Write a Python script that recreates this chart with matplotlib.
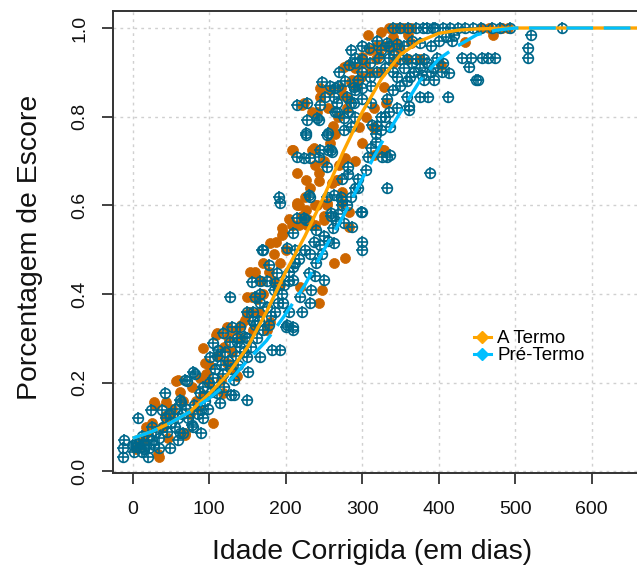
import matplotlib
matplotlib.use("Agg")
import matplotlib.pyplot as plt
from matplotlib.lines import Line2D

plt.rcParams['font.family'] = ['Liberation Sans', 'DejaVu Sans']

# ---------------- data ----------------
a_termo_points = [
    (35,0.033),(28,0.157),(44,0.157),(59,0.206),(46,0.075),(17,0.10),(68,0.082),(85,0.146),
    (92,0.278),(94,0.244),(109,0.308),(125,0.304),(105,0.109),(83,0.16),(116,0.206),(137,0.216),
    (118,0.176),(157,0.319),(33,0.04),(29,0.15),(57,0.203),(68,0.086),(110,0.312),(123,0.326),
    (149,0.394),(149,0.356),(158,0.447),(180,0.515),(195,0.533),(195,0.55),(210,0.556),(221,0.575),
    (215,0.60),(241,0.60),(254,0.605),(263,0.469),(278,0.481),(243,0.379),(247,0.41),(175,0.326),
    (123,0.244),(92,0.172),(42,0.124),
    (10,0.06),(20,0.09),(50,0.12),(62,0.18),(75,0.13),(100,0.24),(100,0.2),(130,0.27),(140,0.30),
    (130,0.23),(165,0.36),(170,0.40),(185,0.43),(170,0.47),
    (154,0.45),(160,0.45),(188,0.518),(193,0.469),(217,0.60),(230,0.567),(239,0.60),(250,0.567),
    (219,0.417),(193,0.42),(156,0.394),(154,0.36),(147,0.342),(180,0.338),(176,0.32),(197,0.537),
    (221,0.826),(235,0.811),(241,0.811),(245,0.845),(208,0.725),(235,0.725),(215,0.672),(226,0.657),
    (243,0.672),(243,0.655),(267,0.657),(270,0.69),(215,0.605),(254,0.601),(226,0.59),(208,0.556),
    (218,0.556),(228,0.556),(238,0.556),(250,0.575),(283,0.552),(315,0.777),(315,0.714),(258,0.86),
    (275,0.85),
    (307,0.984),(224,0.83),(245,0.864),(276,0.913),(287,0.883),(300,0.935),(303,0.92),(290,0.91),
    (272,0.864),(329,0.868),(331,0.83),(316,0.82),(237,0.729),(296,0.777),(329,0.725),(364,1.0),
    (360,0.984),(364,0.966),(337,0.954),(344,0.93),(403,0.917),(375,0.93),(282,0.84),
    (471,0.984),(466,1.0),(483,1.0),(434,0.969),
    (278,0.706),(267,0.657),(274,0.605),(274,0.63),(283,0.586),(326,0.725),
    (344,0.966),(281,0.917),(285,0.879),(316,0.774),(210,0.725),
    (335,1.0),(345,1.0),(355,1.0),(325,0.99),(490,1.0),(455,1.0),
    (310,0.95),(320,0.96),(325,0.9),(340,0.92),(350,0.95),(360,0.93),
    (5,0.05),(15,0.07),(25,0.11),(38,0.1),(52,0.14),(66,0.16),(78,0.19),(88,0.21),(96,0.22),
    (112,0.26),(120,0.28),(135,0.32),(142,0.33),(162,0.39),(168,0.43),(178,0.45),(185,0.49),
    (200,0.5),(205,0.57),(225,0.62),(232,0.64),(238,0.69),(250,0.7),(258,0.74),(262,0.78),
    (268,0.8),(280,0.82),(292,0.87),(298,0.89),(310,0.9),(318,0.93),(322,0.94),(330,0.96),
    (340,0.98),(260,0.65),(290,0.7),(300,0.74),(305,0.8),(255,0.82),(265,0.76),
]

pre_termo_points = [
    (-13,0.033),(-13,0.053),(-11,0.071),(7,0.12),(4,0.056),(0,0.06),(5,0.065),(10,0.055),(15,0.05),
    (8,0.07),(22,0.052),(35,0.052),(24,0.139),(26,0.10),(39,0.139),(42,0.176),(44,0.12),(55,0.10),
    (59,0.071),(66,0.086),(79,0.10),(92,0.12),(79,0.225),(68,0.206),(63,0.157),(101,0.259),(105,0.29),
    (114,0.154),(129,0.172),(118,0.312),(136,0.293),(151,0.225),(133,0.206),(118,0.22),(147,0.304),
    (88,0.176),(77,0.105),(20,0.033),(49,0.052),(71,0.203),(81,0.22),(90,0.139),(112,0.274),(110,0.26),
    (127,0.394),(130,0.326),(140,0.326),(136,0.30),(121,0.27),(156,0.428),(171,0.50),(167,0.40),
    (182,0.274),(193,0.274),(167,0.259),(202,0.503),(210,0.462),(226,0.567),(237,0.518),(250,0.53),
    (259,0.582),(263,0.515),(232,0.379),(221,0.36),(210,0.326),(200,0.326),(193,0.605),(300,0.586),
    (300,0.518),(300,0.50),(149,0.161),(149,0.259),(92,0.191),(62,0.161),(110,0.176),(132,0.172),
    (90,0.086),(62,0.086),
    (30,0.09),(45,0.09),(50,0.11),(60,0.12),(70,0.14),(80,0.15),(95,0.16),(100,0.2),(105,0.21),
    (115,0.24),(125,0.25),(135,0.26),(140,0.28),(150,0.3),(160,0.33),(165,0.34),(175,0.37),(185,0.41),
    (195,0.40),(205,0.43),
    (215,0.571),(224,0.571),(210,0.537),(245,0.51),(169,0.50),(212,0.50),(178,0.466),(189,0.447),
    (167,0.43),(176,0.43),(186,0.425),(210,0.432),(230,0.447),(239,0.44),(250,0.432),(160,0.394),
    (167,0.38),(197,0.379),(219,0.394),(233,0.41),(149,0.36),(158,0.36),(181,0.35),(205,0.36),
    (202,0.33),(209,0.32),(127,0.293),(158,0.34),
    (215,0.826),(245,0.826),(252,0.845),(267,0.83),(289,0.83),(267,0.81),(282,0.81),(228,0.793),
    (243,0.793),(290,0.80),(285,0.777),(226,0.759),(254,0.759),(318,0.744),(245,0.725),(259,0.725),
    (224,0.706),(232,0.706),(244,0.71),(254,0.687),(281,0.687),(281,0.67),(307,0.71),(191,0.62),
    (232,0.62),(254,0.62),(263,0.623),(272,0.62),(291,0.639),(298,0.586),(259,0.575),(266,0.565),
    (240,0.545),(287,0.552),(276,0.56),
    (340,1.0),(350,1.0),(360,1.0),(370,1.0),(380,1.0),(392,1.0),(309,0.954),(291,0.932),(322,0.932),
    (335,0.932),(283,0.917),(341,0.94),(350,0.93),(359,0.93),(370,0.93),(381,0.93),(345,0.89),
    (362,0.89),(381,0.883),(394,0.883),(265,0.864),(289,0.868),(300,0.864),(311,0.87),(263,0.845),
    (280,0.845),(228,0.83),(265,0.811),(285,0.83),(311,0.83),(324,0.8),(241,0.796),(276,0.796),
    (226,0.763),(256,0.763),(276,0.77),(313,0.781),(335,0.811),(346,0.82),(359,0.845),(376,0.845),
    (386,0.845),(412,0.845),(261,0.721),(337,0.714),(330,0.80),(320,0.78),
    (385,1.0),(395,1.0),(405,1.0),(415,1.0),(425,1.0),(435,1.0),(445,1.0),(455,1.0),(470,1.0),
    (480,1.0),(493,1.0),(521,0.984),(517,0.954),(517,0.932),(561,1.0),(456,0.932),(473,0.932),
    (464,0.932),(442,0.932),(430,0.932),(420,0.984),(418,0.97),(440,0.913),(414,0.898),(451,0.883),
    (398,0.932),(392,0.91),(404,0.9),
    (388,0.672),(333,0.639),(326,0.71),(294,0.639),(273,0.66),(273,0.61),(273,0.6),
    (333,0.71),(337,0.777),(361,0.815),(361,0.825),(449,0.883),
    (248,0.879),(258,0.87),(268,0.87),(291,0.92),(333,0.966),(294,0.883),(230,0.623),(255,0.725),
    (215,0.71),
    (320,0.90),(330,0.91),(340,0.90),(355,0.91),(365,0.92),(375,0.91),(385,0.92),(310,0.89),
    (300,0.90),(325,0.95),(335,0.96),(345,0.965),(355,0.96),(365,0.97),(375,0.966),(390,0.96),
    (400,0.97),(410,0.98),(320,0.97),(300,0.96),
    (2,0.045),(12,0.045),(18,0.06),(25,0.07),(28,0.06),(12,0.08),(20,0.08),(35,0.075),(40,0.1),
    (48,0.13),(55,0.14),(65,0.13),(72,0.12),(85,0.13),(98,0.14),(103,0.18),(108,0.23),(120,0.19),
    (128,0.23),(138,0.24),(145,0.27),(155,0.28),(162,0.30),(170,0.32),(178,0.33),(186,0.36),
    (190,0.38),(198,0.42),(204,0.45),(212,0.47),(218,0.48),(225,0.50),(232,0.49),(240,0.47),
    (248,0.49),(255,0.52),(262,0.55),(268,0.58),(280,0.6),(285,0.62),(295,0.66),(305,0.68),
    (312,0.73),(318,0.76),(325,0.77),(332,0.84),(340,0.86),(350,0.87),(358,0.88),(368,0.9),
    (378,0.895),(390,0.9),(405,0.92),(300,0.84),(290,0.86),(278,0.88),(270,0.9),(285,0.95),
    (300,0.93),(310,0.92),
]

curve_x = [0, 25, 50, 75, 100, 125, 150, 175, 200, 225, 250, 275, 300, 325, 350, 375, 400, 425, 450, 475, 500, 700]
a_termo_curve = [0.075, 0.09, 0.11, 0.135, 0.175, 0.22, 0.28, 0.36, 0.45, 0.53, 0.62, 0.72, 0.81, 0.885,
                 0.94, 0.97, 0.988, 0.995, 0.998, 0.999, 1.0, 1.0]
pre_termo_curve = [0.075, 0.09, 0.11, 0.135, 0.165, 0.20, 0.25, 0.295, 0.355, 0.42, 0.50, 0.575, 0.66,
                   0.74, 0.81, 0.88, 0.93, 0.96, 0.985, 0.995, 1.0, 1.0]

x_ticks = [0, 100, 200, 300, 400, 500, 600]
y_ticks = [0.0, 0.2, 0.4, 0.6, 0.8, 1.0]
y_tick_labels = ["0.0", "0.2", "0.4", "0.6", "0.8", "1.0"]
legend_labels = ["A Termo", "Pré-Termo"]

# ---------------- styling ----------------
c_termo_pts = '#CD6600'
c_pre_pts = '#00688B'
c_termo_line = '#FFA500'
c_pre_line = '#00BFFF'

fig = plt.figure(figsize=(6.37, 5.74), dpi=100)
ax = fig.add_axes([0.1769, 0.1760, 0.8722, 0.8057])
ax.set_xlim(-26, 700)
ax.set_ylim(-0.0034, 1.0395)

for xv in x_ticks:
    ax.axvline(xv, color='#D0D0D0', lw=1.0, linestyle=(0, (2, 3)), zorder=0)
for yv in y_ticks:
    ax.axhline(yv, color='#D0D0D0', lw=1.0, linestyle=(0, (2, 3)), zorder=0)

tx = [p[0] for p in a_termo_points]
ty = [p[1] for p in a_termo_points]
ax.plot(tx, ty, linestyle='none', marker='o', markersize=7.2, markerfacecolor=c_termo_pts,
        markeredgecolor=c_termo_pts, markeredgewidth=0.5, zorder=2)

px = [p[0] for p in pre_termo_points]
py = [p[1] for p in pre_termo_points]
ax.plot(px, py, linestyle='none', marker='o', markersize=7.0, markerfacecolor='none',
        markeredgecolor=c_pre_pts, markeredgewidth=1.2, zorder=3)
ax.plot(px, py, linestyle='none', marker='+', markersize=8.6,
        markeredgecolor=c_pre_pts, markeredgewidth=1.2, zorder=3)

ax.plot(curve_x, a_termo_curve, color=c_termo_line, lw=2.4, zorder=4, solid_capstyle='butt')
ax.plot(curve_x, pre_termo_curve, color=c_pre_line, lw=2.4, zorder=5,
        linestyle=(0, (8.0, 3.2)), dash_capstyle='butt')

ax.spines['right'].set_visible(False)
for side in ['left', 'bottom', 'top']:
    ax.spines[side].set_color('#333333')
    ax.spines[side].set_linewidth(1.4)

ax.set_xticks(x_ticks)
ax.set_xticklabels([str(v) for v in x_ticks])
ax.set_yticks(y_ticks)
ax.set_yticklabels(y_tick_labels, rotation=90, va='center')
ax.tick_params(axis='both', direction='out', length=8, width=1.3, color='#333333',
               labelsize=14, labelcolor='#111111')
ax.tick_params(axis='x', pad=12)
ax.tick_params(axis='y', pad=9.5)

fig.text(372/637, 1 - 552/574, "Idade Corrigida (em dias)", ha='center', va='center',
         fontsize=20.4, color='#111111')
fig.text(30/637, 1 - 247/574, "Porcentagem de Escore", ha='center', va='center',
         rotation=90, fontsize=20.4, color='#111111')

handles = [Line2D([], [], color=c_termo_line, lw=2.2, marker='D', markersize=6),
           Line2D([], [], color=c_pre_line, lw=2.2, marker='D', markersize=6)]
ax.legend(handles, legend_labels, loc='upper left', bbox_to_anchor=(474/637, 1 - 330/574),
          bbox_transform=fig.transFigure, frameon=False, fontsize=13.5, handlelength=0.9,
          handletextpad=0.35, labelspacing=0.0, borderpad=0, borderaxespad=0)

fig.savefig("out.png", dpi=100)
